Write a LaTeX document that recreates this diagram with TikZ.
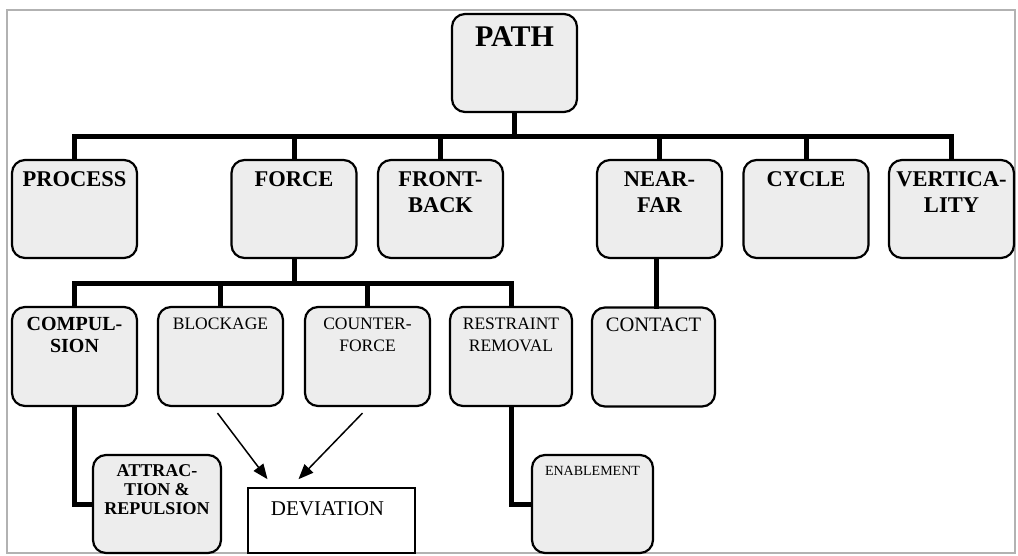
\documentclass[tikz,border=0pt]{standalone}
\usepackage{fontspec}
\setmainfont{Liberation Serif}
\usetikzlibrary{arrows.meta}
\begin{document}
\begin{tikzpicture}[x=1pt,y=-1pt,
  box/.style={draw=black, line width=2.2pt, rounded corners=13pt, fill=black!7, inner sep=0pt},
  devbox/.style={draw=black, line width=1.6pt, fill=white, inner sep=0pt},
  lab/.style={anchor=north, inner sep=0pt, align=center},
  bold1/.style={font=\fontsize{22.5}{26}\selectfont\bfseries},
  reg2/.style={font=\fontsize{17.5}{22}\selectfont},
  bus/.style={line width=5pt, line cap=rect},
  arr/.style={line width=1.5pt, -{Triangle[length=15pt,width=12pt]}}
]
\useasboundingbox (0,0) rectangle (1018,556);
\draw[gray!60, line width=1.5pt] (7,10) rectangle (1015,553);

\coordinate (bus1) at (0,137);
\coordinate (bus2) at (0,284);

% level 0
\node[box, minimum width=125, minimum height=98] (path) at (514.5,63) {};
\node[lab, font=\fontsize{30}{32}\selectfont\bfseries] (pathl) at ([yshift=-14]path.north) {PATH};

% level 1
\foreach \n/\x in {process/74.5, force/294, front/440.5, near/659.5, cycle/806, vert/951.5}
  \node[box, minimum width=125, minimum height=98] (\n) at (\x,209) {};
\node[lab, bold1] (processl) at ([yshift=-13]process.north) {PROCESS};
\node[lab, bold1] (forcel) at ([yshift=-13]force.north) {FORCE};
\node[lab, bold1] (frontl) at ([yshift=-13]front.north) {FRONT-\\BACK};
\node[lab, bold1] (nearl) at ([yshift=-13]near.north) {NEAR-\\FAR};
\node[lab, bold1] (cyclel) at ([yshift=-13]cycle.north) {CYCLE};
\node[lab, bold1] (vertl) at ([yshift=-13]vert.north) {VERTICA-\\LITY};

% level 2
\node[box, minimum width=125, minimum height=99] (comp) at (74.5,356.5) {};
\node[box, minimum width=125, minimum height=99] (block) at (220.5,356.5) {};
\node[box, minimum width=125, minimum height=99] (counter) at (367.5,356.5) {};
\node[box, minimum width=122, minimum height=99] (restr) at (511,356.5) {};
\node[box, minimum width=123, minimum height=99] (contact) at (653.5,357) {};
\node[lab, font=\fontsize{20}{22}\selectfont\bfseries] (compl) at ([yshift=-11]comp.north) {COMPUL-\\SION};
\node[lab, reg2] (blockl) at ([yshift=-12]block.north) {BLOCKAGE};
\node[lab, reg2] (counterl) at ([yshift=-12]counter.north) {COUNTER-\\FORCE};
\node[lab, reg2] (restrl) at ([yshift=-12]restr.north) {RESTRAINT\\REMOVAL};
\node[lab, font=\fontsize{20.5}{22}\selectfont] (contactl) at ([yshift=-11]contact.north) {CONTACT};

% level 3
\node[box, minimum width=128, minimum height=98] (attr) at (157,504) {};
\node[lab, font=\fontsize{18}{19}\selectfont\bfseries] (attrl) at ([yshift=-10]attr.north) {ATTRAC-\\TION \&\\REPULSION};
\node[devbox, minimum width=167, minimum height=65] (dev) at (331.5,520.5) {};
\node[lab, font=\fontsize{21}{22}\selectfont] (devl) at ([xshift=-4,yshift=-14]dev.north) {DEVIATION};
\node[box, minimum width=121, minimum height=98] (enable) at (592.5,504) {};
\node[lab, font=\fontsize{14}{16}\selectfont] (enablel) at ([yshift=-12]enable.north) {ENABLEMENT};

% connectors level 0 -> 1
\draw[bus] (path.south) -- (path.south |- bus1);
\draw[bus] (process.north |- bus1) -- (vert.north |- bus1);
\foreach \n in {process, force, front, near, cycle, vert}
  \draw[bus] (\n.north) -- (\n.north |- bus1);

% connectors force -> level 2
\draw[bus] (force.south) -- (force.south |- bus2);
\draw[bus] (comp.north |- bus2) -- (restr.north |- bus2);
\foreach \n in {comp, block, counter, restr}
  \draw[bus] (\n.north) -- (\n.north |- bus2);

% near-far -> contact
\draw[bus] ([xshift=-3]near.south) -- ([xshift=-3]near.south |- contact.north);

% level 2 -> level 3
\draw[bus, line cap=butt] (comp.south) |- (attr.west);
\draw[bus, line cap=butt] (restr.south) |- (enable.west);

% arrows to deviation
\draw[arr] ([xshift=-3,yshift=-6]block.south) -- ([xshift=-64,yshift=8]dev.north);
\draw[arr] ([xshift=-5,yshift=-6]counter.south) -- ([xshift=-33,yshift=8]dev.north);
\end{tikzpicture}
\end{document}
